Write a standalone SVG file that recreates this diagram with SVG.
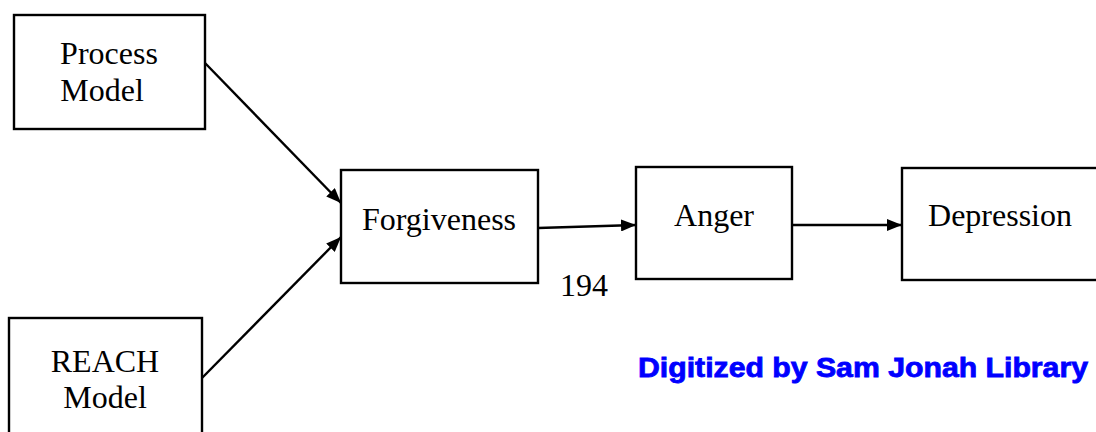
<svg xmlns="http://www.w3.org/2000/svg" width="1096" height="432" viewBox="0 0 1096 432">
<style>
.box{fill:#fff;stroke:#000;stroke-width:2.4}
.t{font-family:"Liberation Serif",serif;font-size:32px;fill:#000;text-anchor:middle}
.c{stroke:#000;stroke-width:2.4;fill:none;marker-end:url(#ah)}
.wm{font-family:"Liberation Sans",Arial,sans-serif;font-weight:bold;font-size:27px;fill:#0000FF;stroke:#0000FF;stroke-width:0.8}
</style>
<defs>
<marker id="ah" viewBox="0 0 15 12" refX="15" refY="6" markerWidth="15" markerHeight="12" markerUnits="userSpaceOnUse" orient="auto">
<path d="M0,0 L15,6 L0,12 Z" fill="#000"/>
</marker>
</defs>
<rect width="1096" height="432" fill="#fff"/>
<g id="connectors">
<line class="c" x1="205" y1="63" x2="341" y2="203"/>
<line class="c" x1="202" y1="378" x2="341" y2="237"/>
<line class="c" x1="538" y1="228" x2="636" y2="225"/>
<line class="c" x1="792" y1="225" x2="902" y2="225"/>
</g>
<g id="process">
<rect class="box" x="14" y="15" width="191" height="114"/>
<text class="t" x="109" y="64">Process</text>
<text class="t" x="102" y="101">Model</text>
</g>
<g id="reach">
<rect class="box" x="9" y="318" width="193" height="130"/>
<text class="t" x="105" y="372">REACH</text>
<text class="t" x="105" y="408">Model</text>
</g>
<g id="forgiveness">
<rect class="box" x="341" y="170" width="197" height="113"/>
<text class="t" x="439" y="230">Forgiveness</text>
</g>
<g id="anger">
<rect class="box" x="636" y="167" width="156" height="112"/>
<text class="t" x="714" y="226">Anger</text>
</g>
<g id="depression">
<rect class="box" x="902" y="168" width="200" height="112"/>
<text class="t" x="1000" y="226">Depression</text>
</g>
<text class="t" x="584" y="296">194</text>
<text class="wm" x="638" y="377" textLength="450" lengthAdjust="spacingAndGlyphs">Digitized by Sam Jonah Library</text>
</svg>
